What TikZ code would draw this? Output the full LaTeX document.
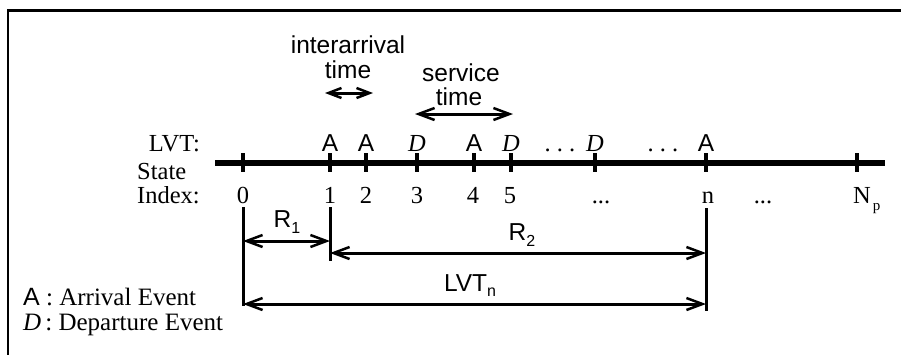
\documentclass[tikz,border=0pt]{standalone}
\usepackage{fontspec}
\setmainfont{Liberation Serif}
\newfontfamily\arial{Liberation Sans}
\usetikzlibrary{arrows.meta}

\begin{document}
\begin{tikzpicture}[x=1pt,y=-1pt,
  serif/.style={inner sep=0pt, font=\fontsize{24.5}{28}\selectfont},
  legend/.style={inner sep=0pt, font=\fontsize{25}{28}\selectfont},
  sans/.style={inner sep=0pt, font=\arial\fontsize{24.5}{28}\selectfont},
  tickmark/.style={line width=4pt},
  extline/.style={line width=3pt},
  barb/.tip={Straight Barb[length=16pt,width=12pt,line width=2.5pt]},
  smallbarb/.tip={Straight Barb[length=13pt,width=10pt,line width=2.5pt]},
  dimarrow/.style={line width=3pt, barb-barb},
  spanarrow/.style={line width=3pt, smallbarb-smallbarb},
]
\useasboundingbox (0,0) rectangle (901,354);

% frame edges
\draw[line width=2.5pt] (8,360) -- (8,10.5) -- (905,10.5);

% time axis
\coordinate (axL) at (215,163);
\coordinate (axR) at (885,163);
\draw[line width=6pt] (axL) -- (axR);

% ticks
\foreach \x in {243,330,366,417,474,511,595,706,857}
  \draw[tickmark] (\x,153) -- (\x,172);

% LVT row
\node[serif, anchor=base east] (lvt) at (200,151) {LVT:};
\node[sans,  anchor=base] (e1) at (330,151) {A};
\node[sans,  anchor=base] (e2) at (366,151) {A};
\node[serif, anchor=base] (e3) at (417,151) {\textit{D}};
\node[sans,  anchor=base] (e4) at (474,151) {A};
\node[serif, anchor=base] (e5) at (511,151) {\textit{D}};
\node[serif, anchor=base] (d1) at (560,151) {.\ .\ .};
\node[serif, anchor=base] (e6) at (595,151) {\textit{D}};
\node[serif, anchor=base] (d2) at (663,151) {.\ .\ .};
\node[sans,  anchor=base] (e7) at (706,151) {A};

% state index row
\node[serif, anchor=base west] (st) at (137,179) {State};
\node[serif, anchor=base west] (ix) at (137,203) {Index:};
\node[serif, anchor=base] (i0) at (243,203) {0};
\node[serif, anchor=base] (i1) at (330,203) {1};
\node[serif, anchor=base] (i2) at (366,203) {2};
\node[serif, anchor=base] (i3) at (417,203) {3};
\node[serif, anchor=base] (i4) at (473,203) {4};
\node[serif, anchor=base] (i5) at (510,203) {5};
\node[serif, anchor=base] (id1) at (601,203) {...};
\node[serif, anchor=base] (in) at (708,203) {n};
\node[serif, anchor=base] (id2) at (763,203) {...};
\node[serif, anchor=base west] (iN) at (853,203) {N\raisebox{-7pt}{\fontsize{15}{15}\selectfont\hspace{2pt}p}};

% interarrival time
\node[sans, anchor=base] (ia1) at (348,53) {interarrival};
\node[sans, anchor=base] (ia2) at (348,78) {time};
\coordinate (iaL) at (325,93);
\coordinate (iaR) at (373,93);
\draw[spanarrow] (iaL) -- (iaR);

% service time
\node[sans, anchor=base] (sv1) at (461,81) {service};
\node[sans, anchor=base] (sv2) at (459,105) {time};
\coordinate (svL) at (415,114);
\coordinate (svR) at (513,114);
\draw[dimarrow] (svL) -- (svR);

% extension lines
\coordinate (x0t) at (243,207);
\coordinate (x0b) at (243,306);
\coordinate (x1t) at (330,207);
\coordinate (x1b) at (330,261);
\coordinate (xnt) at (706,208);
\coordinate (xnb) at (706,311);
\draw[extline] (x0t) -- (x0b);
\draw[extline] (x1t) -- (x1b);
\draw[extline] (xnt) -- (xnb);

% dimension arrows
\coordinate (r1L) at (243,241);
\coordinate (r1R) at (330,241);
\coordinate (r2L) at (330,253);
\coordinate (r2R) at (706,253);
\coordinate (lnL) at (243,304);
\coordinate (lnR) at (706,304);
\draw[dimarrow] (r1L) -- (r1R);
\draw[dimarrow] (r2L) -- (r2R);
\draw[dimarrow] (lnL) -- (lnR);

\node[sans, anchor=base] (r1) at (287,227) {R\raisebox{-6pt}{\fontsize{16}{16}\selectfont 1}};
\node[sans, anchor=base] (r2) at (522,240) {R\raisebox{-6pt}{\fontsize{16}{16}\selectfont 2}};
\node[sans, anchor=base] (ln) at (470,291) {LVT\raisebox{-5pt}{\fontsize{16}{16}\selectfont n}};

% legend
\node[legend, anchor=base west] (legA) at (23,305) {{\arial A} : Arrival Event};
\node[legend, anchor=base west] (legD) at (23,330) {\textit{D}\,: Departure Event};
\end{tikzpicture}
\end{document}
